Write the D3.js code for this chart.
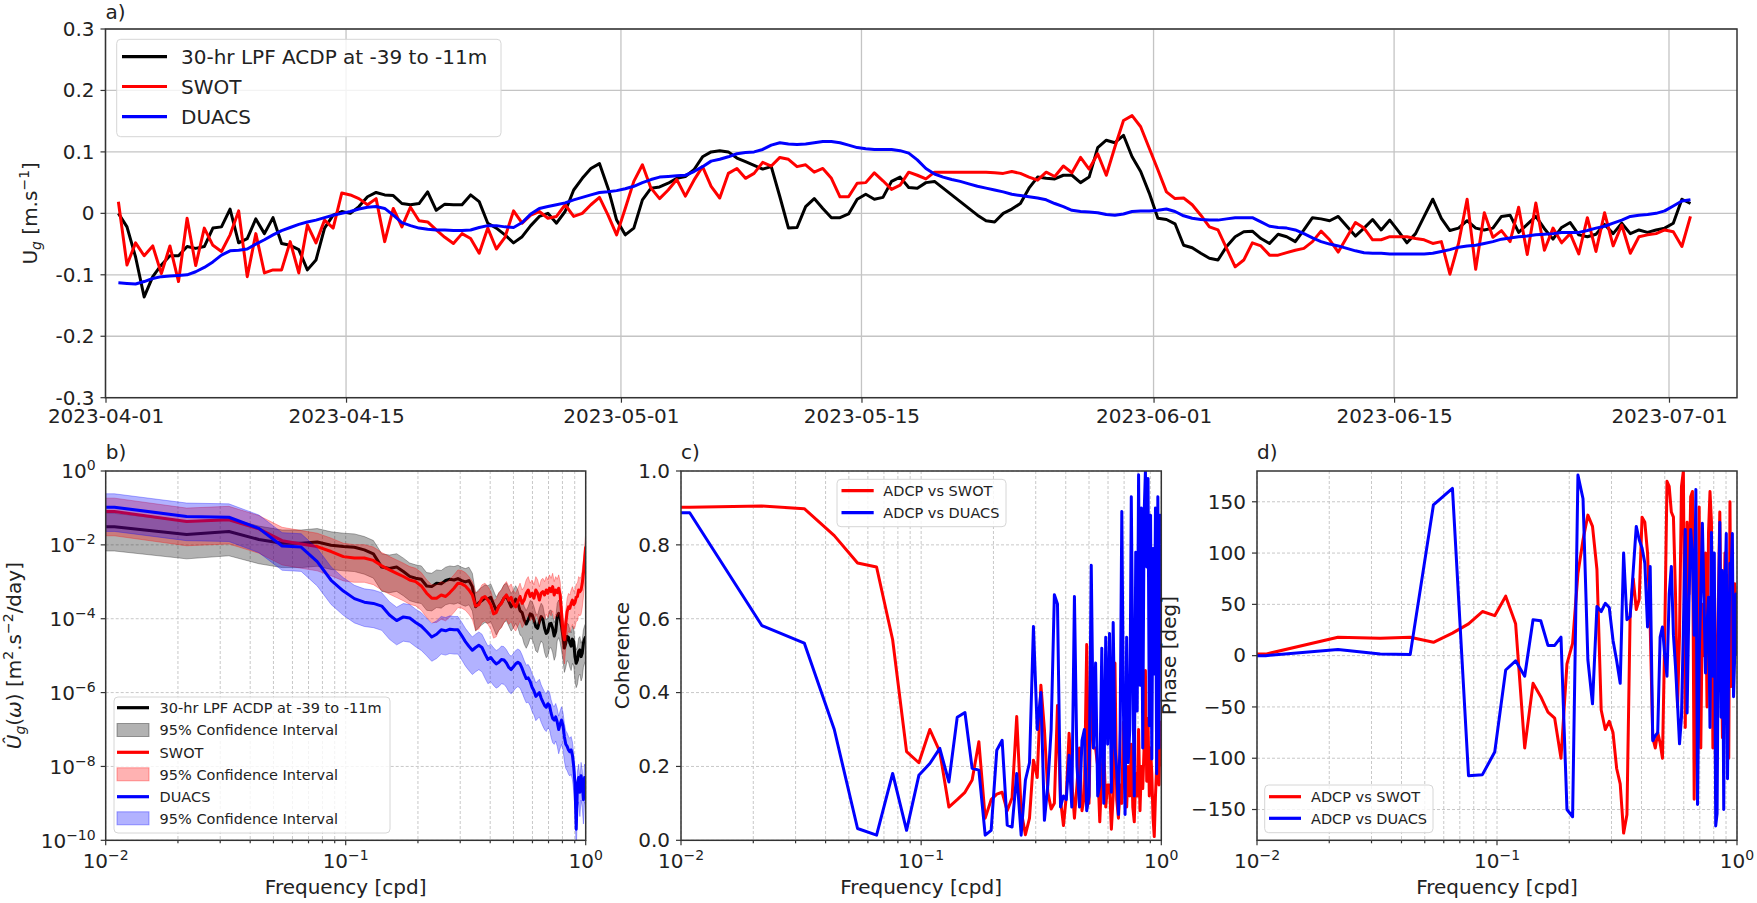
<!DOCTYPE html>
<html>
<head>
<meta charset="utf-8">
<script src="https://cdn.jsdelivr.net/npm/d3@7"></script>
<style>
  body { margin: 0; background: #fff; }
  svg { font-family: "DejaVu Sans", sans-serif; }
  .grid-a { stroke: #c4c4c4; stroke-width: 1.3; }
  .grid-log { stroke: #c8c8c8; stroke-width: 1; stroke-dasharray: 3 2; }
  .tk { stroke: #333; stroke-width: 1.2; }
</style>
</head>
<body>
<svg id="fig" width="1757" height="903"></svg>
<script>
// ---------- panel a: 12-hourly velocity series (m/s) ----------
var seriesStart = Date.UTC(2023, 3, 1, 18);
var stepHours = 12;

var adcpU = [
  0.000, -0.022, -0.071, -0.136, -0.103, -0.084, -0.069, -0.069, -0.054, -0.057,
  -0.054, -0.024, -0.022, 0.007, -0.048, -0.041, -0.009, -0.033, -0.007, -0.049,
  -0.052, -0.059, -0.092, -0.076, -0.024, -0.003, 0.003, 0.000, 0.011, 0.027,
  0.034, 0.030, 0.029, 0.016, 0.014, 0.016, 0.035, 0.005, 0.015, 0.014,
  0.014, 0.030, 0.019, -0.016, -0.024, -0.035, -0.048, -0.038, -0.020, -0.005,
  0.000, -0.016, 0.003, 0.038, 0.057, 0.073, 0.081, 0.041, -0.011, -0.035,
  -0.024, 0.022, 0.041, 0.043,
  0.049, 0.057, 0.060, 0.071, 0.092, 0.100, 0.102, 0.100, 0.090, 0.084,
  0.078, 0.072, 0.076, 0.027, -0.024, -0.023, 0.011, 0.024, 0.008, -0.007,
  -0.007, -0.001, 0.023, 0.031, 0.023, 0.026, 0.052, 0.059, 0.042, 0.041,
  0.050, 0.052, 0.041, 0.030, 0.019, 0.008, -0.003, -0.012, -0.014, 0.000,
  0.007, 0.016, 0.041, 0.059, 0.057, 0.056, 0.062, 0.062, 0.050, 0.059,
  0.107, 0.119, 0.115, 0.127, 0.092, 0.068, 0.033, -0.008, -0.010, -0.017,
  -0.052, -0.056, -0.065,
  -0.073, -0.076, -0.054, -0.038, -0.030, -0.029, -0.041, -0.049, -0.034, -0.038,
  -0.046, -0.027, -0.007, -0.009, -0.012, -0.005, -0.021, -0.037, -0.024, -0.010,
  -0.027, -0.011, -0.029, -0.048, -0.033, -0.005, 0.023, -0.008, -0.028, -0.024,
  -0.012, -0.024, -0.027, -0.024, -0.005, -0.003, -0.031, -0.018, -0.005, -0.025,
  -0.042, -0.023, -0.015, -0.035, -0.038, -0.034, -0.018, -0.033, -0.016, -0.033,
  -0.027, -0.031, -0.027, -0.024, -0.016, 0.023, 0.016
];

var swotU = [
  0.019, -0.084, -0.048, -0.069, -0.053, -0.098, -0.053, -0.111, -0.008, -0.085,
  -0.024, -0.052, -0.062, -0.035, 0.004, -0.103, -0.033, -0.097, -0.092, -0.092,
  -0.046, -0.097, -0.019, -0.048, -0.011, -0.024, 0.033, 0.030, 0.024, 0.014,
  0.024, -0.046, 0.008, -0.022, 0.010, -0.012, -0.014, -0.027, -0.039, -0.049,
  -0.033, -0.041, -0.065, -0.024, -0.058, -0.039, 0.004, -0.016, -0.003, 0.003,
  -0.008, -0.005, 0.014, -0.005, 0.000, 0.014, 0.026, -0.003, -0.035, 0.008,
  0.052, 0.079, 0.041, 0.024,
  0.038, 0.055, 0.028, 0.054, 0.076, 0.044, 0.025, 0.065, 0.073, 0.057,
  0.065, 0.083, 0.077, 0.091, 0.088, 0.076, 0.079, 0.067, 0.073, 0.057,
  0.027, 0.027, 0.049, 0.050, 0.066, 0.053, 0.039, 0.046, 0.067, 0.062,
  0.056, 0.067, 0.067, 0.067, 0.067, 0.067, 0.067, 0.067, 0.066, 0.065,
  0.068, 0.065, 0.059, 0.054, 0.067, 0.060, 0.077, 0.066, 0.091, 0.072,
  0.097, 0.062, 0.108, 0.151, 0.159, 0.141, 0.106, 0.071, 0.035, 0.024,
  0.025, 0.014, -0.003,
  -0.022, -0.027, -0.057, -0.087, -0.076, -0.048, -0.053, -0.068, -0.068, -0.064,
  -0.060, -0.057, -0.046, -0.029, -0.043, -0.063, -0.039, -0.015, -0.024, -0.043,
  -0.043, -0.038, -0.038, -0.038, -0.041, -0.043, -0.049, -0.046, -0.099, -0.049,
  0.023, -0.091, 0.001, -0.039, -0.028, -0.046, 0.010, -0.067, 0.017, -0.060,
  -0.024, -0.048, -0.033, -0.066, -0.007, -0.062, 0.001, -0.053, -0.019, -0.065,
  -0.038, -0.035, -0.033, -0.027, -0.030, -0.054, -0.005
];

var duacsU = [
  -0.113, -0.114, -0.115, -0.111, -0.106, -0.103, -0.102, -0.101, -0.100, -0.095,
  -0.088, -0.079, -0.068, -0.061, -0.060, -0.058, -0.050, -0.043, -0.035, -0.028,
  -0.023, -0.018, -0.014, -0.011, -0.007, -0.003, 0.000, 0.003, 0.007, 0.010,
  0.011, 0.008, -0.003, -0.015, -0.020, -0.024, -0.026, -0.027, -0.027, -0.028,
  -0.028, -0.027, -0.023, -0.020, -0.020, -0.022, -0.023, -0.015, -0.001, 0.008,
  0.011, 0.014, 0.017, 0.022, 0.026, 0.030, 0.034, 0.035, 0.037, 0.040,
  0.044, 0.050, 0.055, 0.059,
  0.060, 0.061, 0.062, 0.068, 0.076, 0.085, 0.088, 0.092, 0.097, 0.099,
  0.100, 0.104, 0.111, 0.115, 0.113, 0.112, 0.113, 0.115, 0.117, 0.117,
  0.115, 0.111, 0.107, 0.105, 0.104, 0.104, 0.104, 0.102, 0.098, 0.087,
  0.073, 0.064, 0.059, 0.055, 0.052, 0.048, 0.044, 0.041, 0.038, 0.035,
  0.031, 0.029, 0.027, 0.025, 0.022, 0.016, 0.011, 0.005, 0.003, 0.002,
  0.001, -0.002, -0.003, -0.001, 0.003, 0.004, 0.004, 0.005, 0.007, 0.003,
  -0.004, -0.008, -0.010,
  -0.011, -0.011, -0.009, -0.007, -0.007, -0.007, -0.014, -0.021, -0.023, -0.024,
  -0.027, -0.033, -0.040, -0.046, -0.050, -0.053, -0.057, -0.061, -0.064, -0.065,
  -0.065, -0.066, -0.066, -0.066, -0.066, -0.066, -0.065, -0.062, -0.059, -0.055,
  -0.053, -0.052, -0.049, -0.046, -0.042, -0.040, -0.038, -0.037, -0.035, -0.034,
  -0.033, -0.031, -0.031, -0.031, -0.028, -0.024, -0.021, -0.016, -0.011, -0.005,
  -0.003, -0.002, 0.000, 0.004, 0.012, 0.020, 0.022
];

var dateTicks = ['2023-04-01', '2023-04-15', '2023-05-01', '2023-05-15', '2023-06-01', '2023-06-15', '2023-07-01'];
var uTicks = [-0.3, -0.2, -0.1, 0, 0.1, 0.2, 0.3];

// ---------- panels b-d: spectra at f = k / recordDays ----------
var recordDays = 92;

var adcpPsd = [
  3.1e-2, 1.9e-2, 2.3e-2, 1.4e-2, 1.1e-2, 1.1e-2, 1.2e-2, 9.8e-3, 9.0e-3, 8.6e-3,
  7.3e-3, 5.7e-3, 2.5e-3, 2.3e-3, 2.5e-3, 1.9e-3, 1.4e-3, 1.25e-3, 1.17e-3, 7.7e-4,
  7.4e-4, 9.1e-4, 8.8e-4, 1.08e-3, 1.17e-3, 1.12e-3, 1.22e-3, 1.08e-3, 9.9e-4, 1.08e-3,
  7.4e-4, 2.1e-4, 2.7e-4, 3.1e-4, 3.6e-4, 3.4e-4, 3.8e-4, 2.5e-4, 1.66e-4, 2.2e-4,
  2.7e-4, 3.6e-4, 4.0e-4, 2.9e-4, 2.1e-4, 2.6e-4, 3.4e-4, 2.6e-4, 1.66e-4, 1.47e-4,
  9.3e-5, 7.2e-5, 9.3e-5, 1.35e-4, 1.27e-4, 9.3e-5, 6.1e-5, 5.5e-5, 8.4e-5, 1.14e-4,
  9.7e-5, 5.5e-5, 4.0e-5, 4.5e-5, 7.2e-5, 7.5e-5, 5.5e-5, 3.4e-5, 4.5e-5, 1.14e-4,
  1.4e-4, 1.03e-4, 6.1e-5, 3.3e-5, 1.6e-5, 2.2e-5, 3.3e-5, 3.1e-5, 2.2e-5, 1.8e-5,
  2.8e-5, 2.4e-5, 9.4e-6, 6.2e-6, 7.6e-6, 1.29e-5, 1.43e-5, 9.4e-6, 1.16e-5, 2.2e-5,
  2.8e-5, 3.3e-5
];
var swotPsd = [
  8.0e-2, 4.3e-2, 4.8e-2, 2.7e-2, 1.3e-2, 1.06e-2, 9.0e-3, 6.6e-3, 4.8e-3, 4.4e-3,
  4.4e-3, 3.8e-3, 2.7e-3, 2.1e-3, 1.7e-3, 1.39e-3, 1.12e-3, 1.01e-3, 7.7e-4, 4.9e-4,
  3.6e-4, 3.6e-4, 4.4e-4, 4.0e-4, 5.1e-4, 6.7e-4, 9.1e-4, 8.8e-4, 7.7e-4, 6.0e-4,
  4.4e-4, 2.2e-4, 2.4e-4, 3.6e-4, 4.0e-4, 3.2e-4, 2.4e-4, 1.35e-4, 1.47e-4, 2.2e-4,
  2.6e-4, 3.6e-4, 4.4e-4, 3.2e-4, 3.8e-4, 2.5e-4, 2.1e-4, 2.9e-4, 4.0e-4, 2.6e-4,
  3.2e-4, 4.9e-4, 6.0e-4, 4.0e-4, 4.9e-4, 3.6e-4, 6.0e-4, 4.9e-4, 3.2e-4, 4.9e-4,
  5.4e-4, 4.4e-4, 6.0e-4, 4.9e-4, 6.7e-4, 5.4e-4, 7.4e-4, 4.4e-4, 6.0e-4, 5.1e-4,
  6.7e-4, 4.4e-4, 1.4e-4, 4.5e-5, 2.7e-5, 7.5e-5, 1.56e-4, 2.1e-4, 1.9e-4, 2.6e-4,
  3.2e-4, 2.4e-4, 2.7e-4, 3.8e-4, 4.0e-4, 6.0e-4, 5.4e-4, 6.0e-4, 9.1e-4, 1.7e-3,
  3.9e-3, 9.0e-3
];
var duacsPsd = [
  1.05e-1, 5.9e-2, 5.6e-2, 2.8e-2, 9.3e-3, 8.7e-3, 3.5e-3, 1.1e-3, 5.6e-4, 3.5e-4,
  2.8e-4, 2.6e-4, 2.2e-4, 1.26e-4, 8.9e-5, 1.12e-4, 1.05e-4, 7.9e-5, 6.3e-5, 4.5e-5,
  3.2e-5, 3.8e-5, 5.0e-5, 4.7e-5, 5.2e-5, 5.0e-5, 5.0e-5, 3.5e-5, 2.4e-5, 1.8e-5,
  1.4e-5, 1.66e-5, 1.9e-5, 1.66e-5, 1.12e-5, 7.9e-6, 8.9e-6, 7.1e-6, 6.0e-6, 6.6e-6,
  7.9e-6, 7.6e-6, 6.3e-6, 4.8e-6, 4.2e-6, 5.0e-6, 6.0e-6, 6.6e-6, 6.0e-6, 4.5e-6,
  3.2e-6, 2.4e-6, 2.5e-6, 2.0e-6, 1.4e-6, 1.12e-6, 7.9e-7, 8.9e-7, 1.0e-6, 7.1e-7,
  5.6e-7, 4.5e-7, 4.0e-7, 5.0e-7, 4.5e-7, 2.8e-7, 2.0e-7, 1.8e-7, 2.2e-7, 1.6e-7,
  1.0e-7, 1.4e-7, 1.8e-7, 1.26e-7, 6.3e-8, 4.0e-8, 3.5e-8, 2.8e-8, 2.5e-8, 2.8e-8,
  2.0e-8, 1.0e-8, 3.5e-9, 2.0e-10, 3.2e-9, 5.0e-9, 2.0e-9, 5.6e-9, 3.5e-9, 1.26e-9,
  5.0e-9, 4.0e-9
];
// 95% confidence interval, as multiples of the estimate (read off the bands)
var ciLow = 0.22;
var ciHigh = 2.3;

var cohSwot = [
  0.902, 0.905, 0.898, 0.825, 0.751, 0.740, 0.543, 0.240, 0.210, 0.300,
  0.240, 0.090, 0.110, 0.130, 0.163, 0.267, 0.060, 0.110, 0.125, 0.130,
  0.080, 0.115, 0.335, 0.080, 0.015, 0.060, 0.217, 0.170, 0.420, 0.300,
  0.130, 0.085, 0.100, 0.365, 0.110, 0.040, 0.120, 0.290, 0.160, 0.060,
  0.150, 0.250, 0.080, 0.120, 0.530, 0.100, 0.430, 0.250, 0.250, 0.200,
  0.050, 0.180, 0.250, 0.090, 0.150, 0.150, 0.030, 0.120, 0.480, 0.110,
  0.060, 0.150, 0.100, 0.320, 0.150, 0.090, 0.200, 0.120, 0.260, 0.090,
  0.050, 0.180, 0.120, 0.300, 0.080, 0.200, 0.140, 0.250, 0.460, 0.160,
  0.330, 0.120, 0.250, 0.180, 0.060, 0.010, 0.120, 0.200, 0.470, 0.150,
  0.320, 0.200
];
var cohDuacs = [
  0.887, 0.581, 0.534, 0.300, 0.032, 0.014, 0.181, 0.027, 0.176, 0.208,
  0.249, 0.158, 0.333, 0.346, 0.195, 0.190, 0.014, 0.027, 0.244, 0.271,
  0.041, 0.036, 0.181, 0.014, 0.163, 0.210, 0.579, 0.300, 0.400, 0.054,
  0.150, 0.300, 0.665, 0.640, 0.090, 0.120, 0.110, 0.230, 0.090, 0.660,
  0.200, 0.090, 0.270, 0.300, 0.080, 0.120, 0.745, 0.250, 0.480, 0.120,
  0.150, 0.520, 0.100, 0.550, 0.260, 0.560, 0.130, 0.590, 0.250, 0.190,
  0.070, 0.300, 0.890, 0.350, 0.070, 0.550, 0.210, 0.300, 0.930, 0.450,
  0.120, 0.780, 0.350, 0.990, 0.420, 0.900, 0.250, 0.880, 1.000, 0.740,
  0.980, 0.310, 0.880, 0.220, 0.790, 0.450, 0.900, 0.180, 0.930, 0.250,
  0.880, 0.800
];

var phaseSwot = [
  1.5, 18, 17, 18, 13, 22, 31, 43, 39, 58,
  31, -90, -27, -40, -55, -61, -100, -8, 12, 80,
  113, 137, 126, 84, -53, -72, -64, -75, -110, -125,
  -173, -155, 40, 75, 45, 55, 135, 130, 100, 30,
  -80, -90, -75, -85, -100, 20, 170, 165, 140, 135,
  60, -50, 20, 165, 180, -70, 130, 60, 155, 160,
  -140, 50, -100, 145, -90, 50, 0, 100, -50, 120,
  160, 130, -90, 50, -140, 0, 60, 140, 20, -80,
  30, 100, 40, -50, -100, 150, -30, 60, 20, 70,
  50, 0
];
var phaseDuacs = [
  0, 6, 1.5, 1, 147, 163, -117, -116, -94, -14,
  -5, -20, 35, 34, 10, 10, 18, -150, -157, 176,
  153, -4, -47, 48, 43, 51, 47, 15, -5, -27,
  100, 35, 38, 83, 126, 113, 105, 90, 28, 87,
  -83, -78, -75, 18, 28, 0, -20, 60, 87, 20,
  -11, -47, -86, -60, 25, 123, -56, 50, 123, 100,
  20, 162, -145, -4, 60, 129, 57, -17, 30, 57,
  -70, 120, -20, 100, -166, -154, 40, 130, -60, 83,
  -150, 60, 119, -120, 0, 90, 83, 119, -40, 0,
  60, 0
];

var freqs = adcpPsd.map(function (_, i) { return (i + 1) / recordDays; });

// ---------- layout ----------
var boxA = { l: 105.5, r: 1737, t: 29, b: 397.7 };
var boxB = { l: 105.7, r: 585.7, t: 471, b: 840.3 };
var boxC = { l: 681, r: 1161.3, t: 471, b: 840.3 };
var boxD = { l: 1257, r: 1737, t: 471, b: 840.3 };

var RED = '#ff0000', BLUE = '#0000ff', BLACK = '#000000';
var svg = d3.select('#fig');
var defs = svg.append('defs');

function clipFor(id, box) {
  defs.append('clipPath').attr('id', id).append('rect')
    .attr('x', box.l).attr('y', box.t)
    .attr('width', box.r - box.l).attr('height', box.b - box.t);
  return 'url(#' + id + ')';
}

function frame(box) {
  svg.append('rect')
    .attr('x', box.l).attr('y', box.t)
    .attr('width', box.r - box.l).attr('height', box.b - box.t)
    .attr('fill', 'none').attr('stroke', '#333').attr('stroke-width', 1.5);
}

function panelLetter(box, txt, baseline) {
  svg.append('text').attr('x', box.l).attr('y', baseline)
    .attr('font-size', 20).attr('fill', '#222').text(txt);
}

function yLabel(x, cy, build) {
  var t = svg.append('text')
    .attr('transform', 'translate(' + x + ',' + cy + ') rotate(-90)')
    .attr('text-anchor', 'middle').attr('font-size', 20).attr('fill', '#222');
  build(t);
}

function xLabel(box, txt) {
  svg.append('text').attr('x', (box.l + box.r) / 2).attr('y', 894)
    .attr('text-anchor', 'middle').attr('font-size', 20).attr('fill', '#222').text(txt);
}

function powLabel(t, exp) {
  t.append('tspan').text('10');
  t.append('tspan').attr('dy', -8).attr('font-size', 14)
    .text(exp < 0 ? '\u2212' + (-exp) : String(exp));
}

// all decade and sub-decade frequencies from 0.01 to 1
var logFreqTicks = [];
[0.01, 0.1].forEach(function (dec) {
  for (var m = 1; m < 10; m++) logFreqTicks.push(+(m * dec).toPrecision(3));
});
logFreqTicks.push(1);
var majorFreq = [0.01, 0.1, 1];

function logXAxis(box, x) {
  var g = svg.append('g');
  g.selectAll('line.grid-log').data(logFreqTicks).enter().append('line')
    .attr('class', 'grid-log')
    .attr('x1', function (d) { return x(d); }).attr('x2', function (d) { return x(d); })
    .attr('y1', box.t).attr('y2', box.b);
  g.selectAll('line.tk').data(logFreqTicks).enter().append('line')
    .attr('class', 'tk')
    .attr('x1', function (d) { return x(d); }).attr('x2', function (d) { return x(d); })
    .attr('y1', box.b)
    .attr('y2', function (d) { return box.b + (majorFreq.indexOf(d) >= 0 ? 5 : 3); })
    .attr('stroke-width', function (d) { return majorFreq.indexOf(d) >= 0 ? 1.2 : 0.8; });
  majorFreq.forEach(function (f) {
    var t = g.append('text').attr('x', x(f)).attr('y', box.b + 27.7)
      .attr('text-anchor', 'middle').attr('font-size', 20).attr('fill', '#222');
    powLabel(t, Math.round(Math.log10(f)));
  });
}

function linearYAxis(box, y, ticks, fmt, grid) {
  var g = svg.append('g');
  g.selectAll('line.gy').data(ticks).enter().append('line')
    .attr('class', grid)
    .attr('x1', box.l).attr('x2', box.r)
    .attr('y1', function (d) { return y(d); }).attr('y2', function (d) { return y(d); });
  g.selectAll('line.tk').data(ticks).enter().append('line')
    .attr('class', 'tk')
    .attr('x1', box.l - 5).attr('x2', box.l)
    .attr('y1', function (d) { return y(d); }).attr('y2', function (d) { return y(d); });
  g.selectAll('text').data(ticks).enter().append('text')
    .attr('x', box.l - 11).attr('y', function (d) { return y(d); })
    .attr('dy', '0.34em').attr('text-anchor', 'end')
    .attr('font-size', 20).attr('fill', '#222')
    .text(fmt);
}

function legend(box, rows, fontSize, sample) {
  var g = svg.append('g');
  g.append('rect').attr('x', box.x).attr('y', box.y)
    .attr('width', box.w).attr('height', box.h).attr('rx', 4)
    .attr('fill', '#fff').attr('fill-opacity', 0.8)
    .attr('stroke', '#d6d6d6').attr('stroke-width', 1);
  rows.forEach(function (r, i) {
    var cy = box.rows[i];
    if (r.patch) {
      g.append('rect').attr('x', sample[0]).attr('y', cy - 6.5)
        .attr('width', sample[1] - sample[0]).attr('height', 13)
        .attr('fill', r.color).attr('fill-opacity', 0.3)
        .attr('stroke', r.color).attr('stroke-opacity', 0.35);
    } else {
      g.append('line').attr('x1', sample[0]).attr('x2', sample[1])
        .attr('y1', cy).attr('y2', cy)
        .attr('stroke', r.color).attr('stroke-width', 3.2);
    }
    g.append('text').attr('x', box.textX).attr('y', cy).attr('dy', '0.36em')
      .attr('font-size', fontSize).attr('fill', '#222').text(r.label);
  });
}

// ================= panel a =================
(function () {
  var x = d3.scaleUtc()
    .domain([new Date(Date.UTC(2023, 3, 1)), new Date(Date.UTC(2023, 6, 4, 23))])
    .range([boxA.l, boxA.r]);
  var y = d3.scaleLinear().domain([-0.3, 0.3]).range([boxA.b, boxA.t]);
  var parse = d3.utcParse('%Y-%m-%d');
  var dates = dateTicks.map(parse);
  var clip = clipFor('clipA', boxA);

  svg.append('g').selectAll('line').data(dates).enter().append('line')
    .attr('class', 'grid-a').attr('stroke-width', 1)
    .attr('x1', function (d) { return x(d); }).attr('x2', function (d) { return x(d); })
    .attr('y1', boxA.t).attr('y2', boxA.b);
  linearYAxis(boxA, y, uTicks, function (d) { return d === 0 ? '0' : d.toFixed(1); }, 'grid-a');

  var xAxis = svg.append('g').attr('transform', 'translate(0,' + boxA.b + ')')
    .call(d3.axisBottom(x).tickValues(dates).tickFormat(d3.utcFormat('%Y-%m-%d'))
      .tickSize(5).tickPadding(6));
  xAxis.select('.domain').remove();
  xAxis.selectAll('line').attr('stroke', '#333').attr('stroke-width', 1.2);
  xAxis.selectAll('text').attr('font-size', 20).attr('font-family', 'DejaVu Sans').attr('fill', '#222');

  function timeOf(i) { return new Date(seriesStart + i * stepHours * 3600e3); }
  var line = d3.line()
    .x(function (d, i) { return x(timeOf(i)); })
    .y(function (d) { return y(d); });

  var plots = svg.append('g').attr('clip-path', clip);
  [[adcpU, BLACK], [swotU, RED], [duacsU, BLUE]].forEach(function (s) {
    plots.append('path').datum(s[0]).attr('d', line)
      .attr('fill', 'none').attr('stroke', s[1]).attr('stroke-width', 3)
      .attr('stroke-linejoin', 'round');
  });

  frame(boxA);
  panelLetter(boxA, 'a)', 19);

  yLabel(37, (boxA.t + boxA.b) / 2, function (t) {
    t.append('tspan').text('U');
    t.append('tspan').attr('font-style', 'italic').attr('font-size', 14).attr('dy', 4).text('g');
    t.append('tspan').attr('dy', -4).text(' [m.s');
    t.append('tspan').attr('font-size', 14).attr('dy', -8).text('\u22121');
    t.append('tspan').attr('dy', 8).text(']');
  });

  legend({ x: 116.7, y: 39.3, w: 384.3, h: 97.4, rows: [56.7, 86.5, 116.7], textX: 181 },
    [{ color: BLACK, label: '30-hr LPF ACDP at -39 to -11m' },
     { color: RED, label: 'SWOT' },
     { color: BLUE, label: 'DUACS' }], 20, [122, 167]);
})();

// helper: matplotlib runs the zero-frequency bin flat to the left edge
function withEdge(vals) {
  var pts = freqs.map(function (f, i) { return [f, vals[i]]; });
  pts.unshift([0.01, vals[0]]);
  return pts;
}

// ================= panel b =================
(function () {
  var x = d3.scaleLog().domain([0.01, 1]).range([boxB.l, boxB.r]);
  var y = d3.scaleLog().domain([1e-10, 1]).range([boxB.b, boxB.t]);
  var clip = clipFor('clipB', boxB);
  var yMajors = [1, 1e-2, 1e-4, 1e-6, 1e-8, 1e-10];

  logXAxis(boxB, x);
  var g = svg.append('g');
  g.selectAll('line.gy').data(yMajors).enter().append('line')
    .attr('class', 'grid-log').attr('x1', boxB.l).attr('x2', boxB.r)
    .attr('y1', function (d) { return y(d); }).attr('y2', function (d) { return y(d); });
  g.selectAll('line.tk').data(yMajors).enter().append('line')
    .attr('class', 'tk').attr('x1', boxB.l - 5).attr('x2', boxB.l)
    .attr('y1', function (d) { return y(d); }).attr('y2', function (d) { return y(d); });
  yMajors.forEach(function (v) {
    var t = g.append('text').attr('x', boxB.l - 10).attr('y', y(v) + 7.3)
      .attr('text-anchor', 'end').attr('font-size', 20).attr('fill', '#222');
    powLabel(t, Math.round(Math.log10(v)));
  });

  var line = d3.line().x(function (d) { return x(d[0]); }).y(function (d) { return y(d[1]); });
  var area = d3.area().x(function (d) { return x(d[0]); })
    .y0(function (d) { return y(d[1] * ciLow); })
    .y1(function (d) { return y(d[1] * ciHigh); });

  var plots = svg.append('g').attr('clip-path', clip);
  [[adcpPsd, BLACK], [swotPsd, RED], [duacsPsd, BLUE]].forEach(function (s) {
    var pts = withEdge(s[0]);
    plots.append('path').datum(pts).attr('d', line)
      .attr('fill', 'none').attr('stroke', s[1]).attr('stroke-width', 3)
      .attr('stroke-linejoin', 'round');
    plots.append('path').datum(pts).attr('d', area)
      .attr('fill', s[1]).attr('fill-opacity', 0.3)
      .attr('stroke', s[1]).attr('stroke-opacity', 0.3).attr('stroke-width', 1);
  });

  frame(boxB);
  panelLetter(boxB, 'b)', 459);
  xLabel(boxB, 'Frequency [cpd]');
  yLabel(21, (boxB.t + boxB.b) / 2, function (t) {
    t.append('tspan').attr('font-style', 'italic').text('\u00DB');
    t.append('tspan').attr('font-style', 'italic').attr('font-size', 14).attr('dy', 4).text('g');
    t.append('tspan').attr('dy', -4).text('(');
    t.append('tspan').attr('font-style', 'italic').text('\u03C9');
    t.append('tspan').text(') [m');
    t.append('tspan').attr('font-size', 14).attr('dy', -8).text('2');
    t.append('tspan').attr('dy', 8).text('.s');
    t.append('tspan').attr('font-size', 14).attr('dy', -8).text('\u22122');
    t.append('tspan').attr('dy', 8).text('/day]');
  });

  legend({ x: 114, y: 697, w: 276, h: 136,
           rows: [707.7, 730, 752.3, 774.3, 796.7, 818.3], textX: 159.6 },
    [{ color: BLACK, label: '30-hr LPF ACDP at -39 to -11m' },
     { color: BLACK, label: '95% Confidence Interval', patch: true },
     { color: RED, label: 'SWOT' },
     { color: RED, label: '95% Confidence Interval', patch: true },
     { color: BLUE, label: 'DUACS' },
     { color: BLUE, label: '95% Confidence Interval', patch: true }], 14.5, [117, 149]);
})();

// ================= panel c =================
(function () {
  var x = d3.scaleLog().domain([0.01, 1]).range([boxC.l, boxC.r]);
  var y = d3.scaleLinear().domain([0, 1]).range([boxC.b, boxC.t]);
  var clip = clipFor('clipC', boxC);

  logXAxis(boxC, x);
  linearYAxis(boxC, y, [0, 0.2, 0.4, 0.6, 0.8, 1.0], d3.format('.1f'), 'grid-log');

  var line = d3.line().x(function (d) { return x(d[0]); }).y(function (d) { return y(d[1]); });
  var plots = svg.append('g').attr('clip-path', clip);
  [[cohSwot, RED], [cohDuacs, BLUE]].forEach(function (s) {
    plots.append('path').datum(withEdge(s[0])).attr('d', line)
      .attr('fill', 'none').attr('stroke', s[1]).attr('stroke-width', 3)
      .attr('stroke-linejoin', 'round');
  });

  frame(boxC);
  panelLetter(boxC, 'c)', 459);
  xLabel(boxC, 'Frequency [cpd]');
  yLabel(628.8, (boxC.t + boxC.b) / 2, function (t) { t.text('Coherence'); });

  legend({ x: 837, y: 479.3, w: 169, h: 47.4, rows: [490.7, 512.7], textX: 883.3 },
    [{ color: RED, label: 'ADCP vs SWOT' },
     { color: BLUE, label: 'ADCP vs DUACS' }], 14.5, [841.5, 873.7]);
})();

// ================= panel d =================
(function () {
  var x = d3.scaleLog().domain([0.01, 1]).range([boxD.l, boxD.r]);
  var y = d3.scaleLinear().domain([-180, 180]).range([boxD.b, boxD.t]);
  var clip = clipFor('clipD', boxD);

  logXAxis(boxD, x);
  linearYAxis(boxD, y, [-150, -100, -50, 0, 50, 100, 150],
    function (d) { return d < 0 ? '\u2212' + (-d) : String(d); }, 'grid-log');

  var line = d3.line().x(function (d) { return x(d[0]); }).y(function (d) { return y(d[1]); });
  var plots = svg.append('g').attr('clip-path', clip);
  [[phaseSwot, RED], [phaseDuacs, BLUE]].forEach(function (s) {
    plots.append('path').datum(withEdge(s[0])).attr('d', line)
      .attr('fill', 'none').attr('stroke', s[1]).attr('stroke-width', 3)
      .attr('stroke-linejoin', 'round');
  });

  frame(boxD);
  panelLetter(boxD, 'd)', 459);
  xLabel(boxD, 'Frequency [cpd]');
  yLabel(1176, (boxD.t + boxD.b) / 2, function (t) { t.text('Phase [deg]'); });

  legend({ x: 1264.7, y: 785, w: 168.3, h: 47.7, rows: [796.7, 818.3], textX: 1311 },
    [{ color: RED, label: 'ADCP vs SWOT' },
     { color: BLUE, label: 'ADCP vs DUACS' }], 14.5, [1269, 1301]);
})();
</script>
</body>
</html>
